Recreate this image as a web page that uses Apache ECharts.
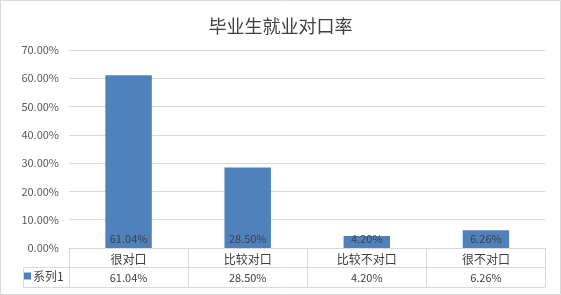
<!DOCTYPE html>
<html><head><meta charset="utf-8">
<script src="https://cdn.jsdelivr.net/npm/echarts@6/dist/echarts.min.js"></script>
<style>html,body{margin:0;padding:0;background:#fff}#c{width:561px;height:295px}</style>
</head><body><div id="c"></div>
<script>
const title = '毕业生就业对口率';
const seriesName = '系列1';
const categories = ['很对口', '比较对口', '比较不对口', '很不对口'];
const values = [61.04, 28.50, 4.20, 6.26];
const yMin = 0, yMax = 70, yInterval = 10;

const FONT = '"Noto Sans CJK SC", "Noto Sans", sans-serif';
const pct = v => Number(v).toFixed(2) + '%';
const lineColor = '#d9d9d9';

const chart = echarts.init(document.getElementById('c'), null, {renderer: 'canvas'});
chart.setOption({
  animation: false,
  textStyle: {fontFamily: FONT},
  title: {text: title, left: 'center', top: 12,
    textStyle: {fontSize: 18, fontWeight: 'normal', color: '#404040', fontFamily: FONT}},
  legend: {data: [seriesName], left: 24, top: 270, icon: 'rect', itemWidth: 7, itemHeight: 7, itemGap: 2,
    textStyle: {fontSize: 12, color: '#404040', padding: [0, 0, 0, -3]}, padding: 0},
  grid: {left: 69, right: 15.5, top: 50, bottom: 47, containLabel: false},
  xAxis: [
    {type: 'category', data: categories, position: 'bottom',
     axisLine: {show: true, lineStyle: {color: lineColor}},
     axisTick: {show: true, length: 39, alignWithLabel: false, lineStyle: {color: lineColor}},
     axisLabel: {interval: 0, margin: 4, fontSize: 12, color: '#404040', lineHeight: 14}},
    {type: 'category', data: values.map(pct), position: 'bottom', offset: 19,
     axisLine: {show: false}, axisTick: {show: false},
     axisLabel: {interval: 0, margin: 4, fontSize: 11, color: '#404040', lineHeight: 13}}
  ],
  yAxis: {type: 'value', min: yMin, max: yMax, interval: yInterval,
    axisLine: {show: false}, axisTick: {show: false},
    axisLabel: {formatter: pct, fontSize: 11, color: '#595959', margin: 10},
    splitLine: {lineStyle: {color: lineColor}}},
  series: [{name: seriesName, type: 'bar', data: values, barWidth: '39%',
    itemStyle: {color: '#4f81bd'},
    label: {show: true, position: 'insideBottom', distance: 4, formatter: p => pct(p.value),
      fontSize: 11, color: '#404040'}}],
  graphic: [
    {type: 'rect', shape: {x: 0.5, y: 0.5, width: 560, height: 294}, style: {fill: null, stroke: lineColor, lineWidth: 1}, silent: true},
    {type: 'line', shape: {x1: 23.5, y1: 267.5, x2: 545.5, y2: 267.5}, style: {stroke: lineColor, lineWidth: 1}, silent: true},
    {type: 'line', shape: {x1: 23.5, y1: 287.5, x2: 545.5, y2: 287.5}, style: {stroke: lineColor, lineWidth: 1}, silent: true},
    {type: 'line', shape: {x1: 23.5, y1: 267.5, x2: 23.5, y2: 287.5}, style: {stroke: lineColor, lineWidth: 1}, silent: true}
  ]
});
</script></body></html>
